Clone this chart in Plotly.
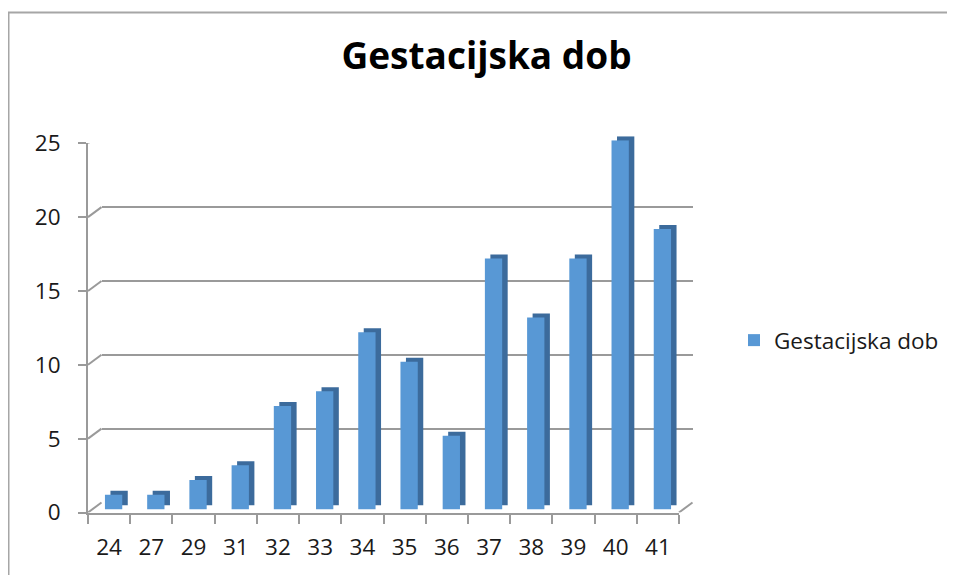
import plotly.graph_objects as go

# ---- data ----
categories = ["24", "27", "29", "31", "32", "33", "34", "35", "36", "37", "38", "39", "40", "41"]
values = [1, 1, 2, 3, 7, 8, 12, 10, 5, 17, 13, 17, 25, 19]
y_ticks = [0, 5, 10, 15, 20, 25]
series_name = "Gestacijska dob"
title_text = "Gestacijska dob"

W, H = 955, 575
OFF = 8  # default page body margin
FONT = "Open Sans"

def px_x(a, b):
    return [(a - OFF) / W, (b - OFF) / W]

def px_y(bottom, top):
    return [(H - (bottom - OFF)) / H, (H - (top - OFF)) / H]

def sx(a):
    return (a - OFF) / W

def sy(a):
    return (H - (a - OFF)) / H

# front plane of the 3D box (screen pixels)
FX0, FX1 = 88, 679
FY0, FY1 = 512.5, 143.3

def shifted(dx, dy):
    return px_x(FX0 + dx, FX1 + dx), px_y(FY0 - dy, FY1 - dy)

wall_x, wall_y = shifted(13.5, 10)
back_x, back_y = shifted(10, 7)
face_x, face_y = shifted(4.5, 3)
front_x, front_y = shifted(0, 0)

grid_col = "#9a9a9a"
bar_w = 0.41

fig = go.Figure()
# invisible trace holding the back wall (gridlines)
fig.add_trace(go.Scatter(x=categories, y=values, xaxis="x", yaxis="y", mode="none",
                         showlegend=False, hoverinfo="skip"))
# back of bars (dark side/top)
fig.add_trace(go.Bar(x=categories, y=values, width=bar_w, xaxis="x2", yaxis="y2",
                     marker=dict(color="#3c6b9c", line=dict(width=0)),
                     showlegend=False, hoverinfo="skip"))
# front face of bars
fig.add_trace(go.Bar(x=categories, y=values, width=bar_w, xaxis="x3", yaxis="y3",
                     name=series_name,
                     marker=dict(color="#5898d5", line=dict(width=0))))
# invisible trace to hold front axes
fig.add_trace(go.Scatter(x=categories, y=values, xaxis="x4", yaxis="y4", mode="none",
                         showlegend=False, hoverinfo="skip"))

common_cat = dict(type="category", categoryorder="array", categoryarray=categories,
                  range=[-0.5, len(categories) - 0.5])
hidden = dict(showline=False, showticklabels=False, ticks="", showgrid=False, zeroline=False)

fig.update_layout(
    width=W, height=H,
    margin=dict(l=0, r=0, t=0, b=0, autoexpand=False),
    paper_bgcolor="white", plot_bgcolor="rgba(0,0,0,0)",
    font=dict(family=FONT, color="#1a1a1a"),
    title=dict(text=title_text, x=sx(486.5), xanchor="center",
               y=sy(56.5), yanchor="middle", yref="container",
               font=dict(family=FONT, size=37, color="#000000", weight="bold")),
    barmode="overlay",
    # wall (gridlines)
    xaxis=dict(domain=wall_x, **common_cat, anchor="y", **hidden),
    yaxis=dict(domain=wall_y, range=[0, 25], tickvals=y_ticks, showgrid=True,
               gridcolor=grid_col, gridwidth=2, zeroline=False, showline=False,
               showticklabels=False, ticks="", anchor="x"),
    # back of bars
    xaxis2=dict(domain=back_x, **common_cat, anchor="y2", **hidden),
    yaxis2=dict(domain=back_y, range=[0, 25], anchor="x2", **hidden),
    # front of bars
    xaxis3=dict(domain=face_x, **common_cat, anchor="y3", **hidden),
    yaxis3=dict(domain=face_y, range=[0, 25], anchor="x3", **hidden),
    # front axes
    xaxis4=dict(domain=front_x, **common_cat, anchor="y4",
                showline=True, linecolor=grid_col, linewidth=2,
                ticks="outside", tickson="boundaries", ticklen=9, tickwidth=2,
                tickcolor=grid_col, showgrid=False, zeroline=False,
                tickfont=dict(family=FONT, size=22.5, color="#1a1a1a"),
                ticklabelstandoff=13),
    yaxis4=dict(domain=front_y, range=[0, 25], tickvals=y_ticks, anchor="x4",
                showline=True, linecolor=grid_col, linewidth=2, showgrid=False,
                zeroline=False, ticks="outside", ticklen=8, tickwidth=2, tickcolor=grid_col,
                tickfont=dict(family=FONT, size=22.5, color="#1a1a1a"),
                ticklabelstandoff=13),
    legend=dict(x=sx(734), y=sy(340.5), xanchor="left", yanchor="middle",
                font=dict(family=FONT, size=22.5, color="#1a1a1a"),
                bgcolor="rgba(0,0,0,0)", itemwidth=30),
)

shapes = []
# side-wall connectors from front y axis to back wall
for v in y_ticks:
    shapes.append(dict(type="line", xref="paper", yref="y4", ysizemode="pixel", yanchor=v,
                       x0=sx(FX0), x1=sx(FX0 + 13.5), y0=0, y1=10,
                       line=dict(color=grid_col, width=2)))
# floor right edge connector
shapes.append(dict(type="line", xref="paper", yref="y4", ysizemode="pixel", yanchor=0,
                   x0=sx(FX1), x1=sx(FX1 + 13.5), y0=0, y1=10,
                   line=dict(color=grid_col, width=2)))
# outer chart frame
shapes.append(dict(type="rect", xref="paper", yref="paper",
                   x0=sx(8.5), x1=1.05, y0=-0.05, y1=sy(12.5),
                   line=dict(color="#a6a6a6", width=2), fillcolor="rgba(0,0,0,0)"))
fig.update_layout(shapes=shapes)

fig.write_html("out.html")
